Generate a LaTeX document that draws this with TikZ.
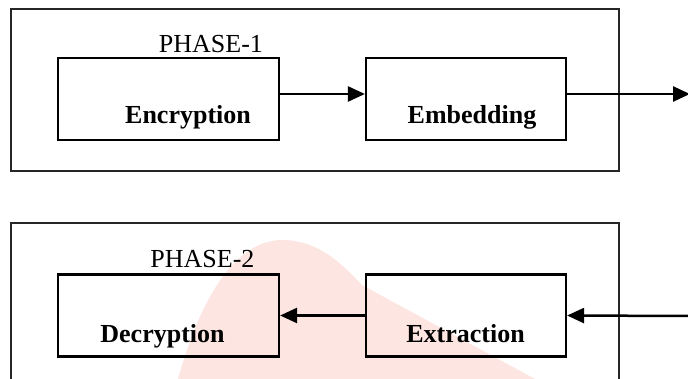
\documentclass[tikz,border=0pt]{standalone}
\usepackage{fontspec}
\setmainfont{Liberation Serif}
\usepackage{tikz}
\usetikzlibrary{arrows.meta, positioning}
\definecolor{wmark}{RGB}{253,229,225}

\begin{document}
\begin{tikzpicture}[x=1pt, y=-1pt,
    phase/.style={draw, line width=1.7pt, color=black!85},
    blk/.style={draw, line width=2.2pt, minimum width=221pt, minimum height=82pt, inner sep=0pt},
    blk2/.style={blk, minimum width=200pt},
    lbl/.style={anchor=base, font=\fontsize{26}{30}\selectfont\bfseries, inner sep=0pt},
    ttl/.style={anchor=base, font=\fontsize{26}{30}\selectfont, inner sep=0pt},
    arr/.style={-{Triangle[length=17pt, width=15pt]}, line width=2.5pt}
]
\useasboundingbox (0,0) rectangle (688,379);
\clip (0,0) rectangle (688,379);

% watermark behind phase 2
\fill[wmark] (178,379) .. controls (200,300) and (235,238) .. (285,240)
    .. controls (320,242) and (340,262) .. (362,285) -- (535,379) -- cycle;

% phase frames
\draw[phase] (11,9) rectangle (619,171);
\draw[phase] (11,223) rectangle (619,420);

\node[ttl]  (p1)   at (211,53)    {PHASE-1};
\node[blk]  (enc)  at (168.5,99)  {};
\node[blk2] (emb)  at (466,99)    {};
\node[lbl]  (enct) at (188,124)   {Encryption};
\node[lbl]  (embt) at (472,124)   {Embedding};
\coordinate (out) at (690,94);

\node[ttl]  (p2)   at (202.5,268) {PHASE-2};
\node[blk]  (dec)  at (168.5,315.5) {};
\node[blk2] (ext)  at (466,315.5) {};
\node[lbl]  (dect) at (162.5,342) {Decryption};
\node[lbl]  (extt) at (465.5,342) {Extraction};
\coordinate (in) at (688,316);

\draw[arr] ([yshift=5]enc.east) -- ([yshift=5]emb.west);
\draw[arr] ([yshift=5]emb.east) -- (out);
\draw[arr] (ext.west) -- (dec.east);
\draw[arr] (in) -- (ext.east);
\end{tikzpicture}
\end{document}
